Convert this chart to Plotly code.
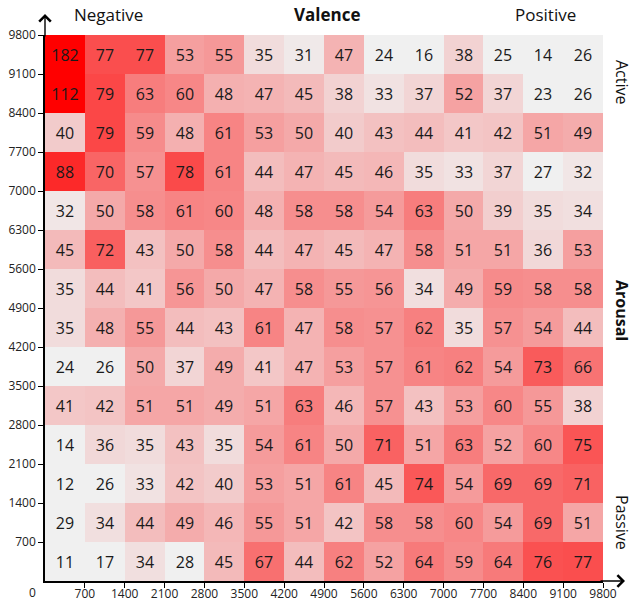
import plotly.graph_objects as go

# Cell centres (valence on x, arousal on y)
x_centers = [350, 1050, 1750, 2450, 3150, 3850, 4550, 5250, 5950, 6650, 7350, 8050, 8750, 9450]
y_centers = [9450, 8750, 8050, 7350, 6650, 5950, 5250, 4550, 3850, 3150, 2450, 1750, 1050, 350]

# Counts, rows listed top (most active) to bottom (most passive)
row_01 = [182, 77, 77, 53, 55, 35, 31, 47, 24, 16, 38, 25, 14, 26]
row_02 = [112, 79, 63, 60, 48, 47, 45, 38, 33, 37, 52, 37, 23, 26]
row_03 = [40, 79, 59, 48, 61, 53, 50, 40, 43, 44, 41, 42, 51, 49]
row_04 = [88, 70, 57, 78, 61, 44, 47, 45, 46, 35, 33, 37, 27, 32]
row_05 = [32, 50, 58, 61, 60, 48, 58, 58, 54, 63, 50, 39, 35, 34]
row_06 = [45, 72, 43, 50, 58, 44, 47, 45, 47, 58, 51, 51, 36, 53]
row_07 = [35, 44, 41, 56, 50, 47, 58, 55, 56, 34, 49, 59, 58, 58]
row_08 = [35, 48, 55, 44, 43, 61, 47, 58, 57, 62, 35, 57, 54, 44]
row_09 = [24, 26, 50, 37, 49, 41, 47, 53, 57, 61, 62, 54, 73, 66]
row_10 = [41, 42, 51, 51, 49, 51, 63, 46, 57, 43, 53, 60, 55, 38]
row_11 = [14, 36, 35, 43, 35, 54, 61, 50, 71, 51, 63, 52, 60, 75]
row_12 = [12, 26, 33, 42, 40, 53, 51, 61, 45, 74, 54, 69, 69, 71]
row_13 = [29, 34, 44, 49, 46, 55, 51, 42, 58, 58, 60, 54, 69, 51]
row_14 = [11, 17, 34, 28, 45, 67, 44, 62, 52, 64, 59, 64, 76, 77]

tick_vals = [700, 1400, 2100, 2800, 3500, 4200, 4900, 5600, 6300, 7000, 7700, 8400, 9100, 9800]
tick_text = [str(v) for v in tick_vals]

z = [row_01, row_02, row_03, row_04, row_05, row_06, row_07,
     row_08, row_09, row_10, row_11, row_12, row_13, row_14]
text = [[str(v) for v in r] for r in z]

fig = go.Figure(go.Heatmap(
    x=x_centers, y=y_centers, z=z, text=text,
    texttemplate="%{text}",
    textfont=dict(family="Open Sans", size=16, color="#1a1a1a"),
    colorscale=[[0, "#f0f0f0"], [1, "#ff0000"]],
    zmin=29, zmax=100, showscale=False, hoverinfo="skip",
))

axis_common = dict(
    showgrid=False, zeroline=False, showline=True, linecolor="black", linewidth=1.5,
    ticks="outside", ticklen=5, tickwidth=1, tickcolor="black",
    tickvals=tick_vals, ticktext=tick_text,
    tickfont=dict(family="Open Sans", size=12, color="#222"),
    range=[0, 9800], automargin=False, fixedrange=True,
)

fig.update_layout(
    width=634, height=604,
    margin=dict(l=45, r=31, t=35, b=23),
    paper_bgcolor="white", plot_bgcolor="white",
    xaxis=dict(axis_common, ticklabelstandoff=-4),
    yaxis=axis_common,
)

lab_font = dict(family="Open Sans", size=17, color="#111")
side_font = dict(family="Open Sans", size=16, color="#111")

ann = [
    dict(text="Negative", x=(108 - 45) / 558, y=1.038, font=lab_font),
    dict(text="<b>Valence</b>", x=(327 - 45) / 558, y=1.038, font=lab_font),
    dict(text="Positive", x=(545 - 45) / 558, y=1.038, font=lab_font),
    dict(text="Active", x=(622 - 45) / 558, y=(581 - 82) / 546, font=side_font, textangle=90),
    dict(text="<b>Arousal</b>", x=(622 - 45) / 558, y=(581 - 310) / 546, font=side_font, textangle=90),
    dict(text="Passive", x=(622 - 45) / 558, y=(581 - 522) / 546, font=side_font, textangle=90),
    dict(text="0", x=(32 - 45) / 558, y=(581 - 592) / 546,
         font=dict(family="Open Sans", size=12, color="#222")),
]
for a in ann:
    a.update(xref="paper", yref="paper", showarrow=False, xanchor="center", yanchor="middle")

# axis arrows
ann.append(dict(x=0, y=(581 - 14) / 546, xref="paper", yref="paper", text="",
                showarrow=True, ax=0, ay=24, arrowhead=4, arrowsize=1.6,
                arrowwidth=1.4, arrowcolor="black"))
ann.append(dict(x=(625 - 45) / 558, y=0, xref="paper", yref="paper", text="",
                showarrow=True, ax=-26, ay=0, arrowhead=4, arrowsize=1.6,
                arrowwidth=1.4, arrowcolor="black"))

fig.update_layout(annotations=ann)
fig.write_html("out.html", config={"displayModeBar": False},
               post_script="document.body.style.margin='0px';")
